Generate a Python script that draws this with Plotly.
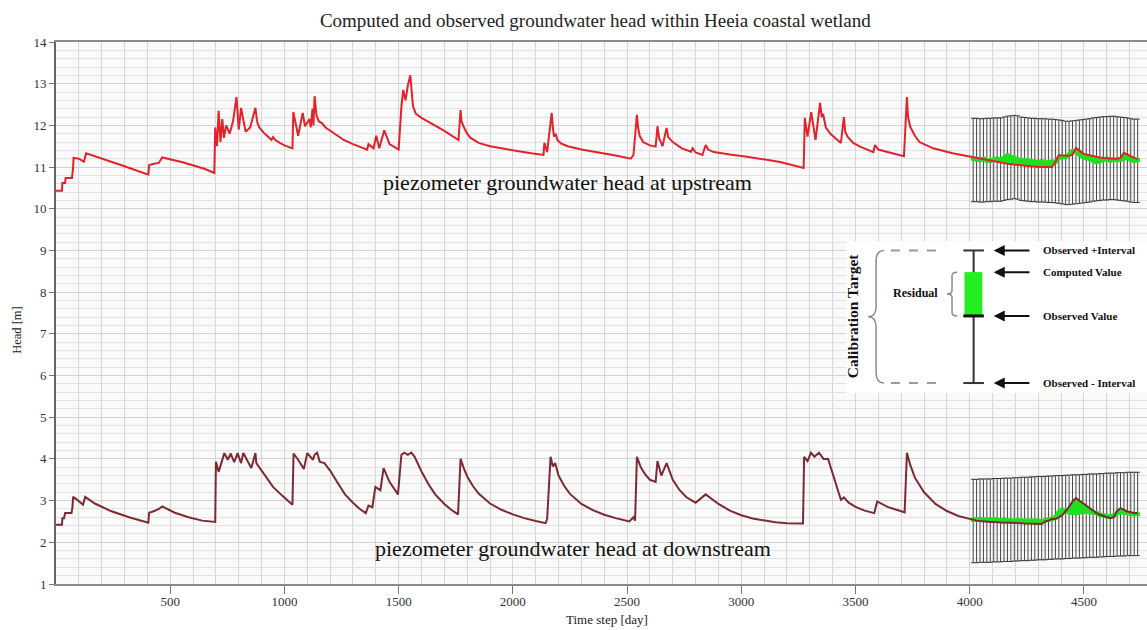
import plotly.graph_objects as go

# ---------------- data ----------------
# simulated head, upstream piezometer (day, head m)
up_days = [0, 26, 28, 40, 42, 70, 75, 77, 100, 118, 122, 132, 200, 300, 404, 408, 430, 450, 465,
           550, 650, 693, 697, 705, 712, 720, 728, 735, 745, 760, 775, 790, 800, 810, 830, 850, 873,
           880, 890, 910, 930, 943, 950, 960, 980, 1000, 1035, 1039, 1060, 1080, 1090, 1110, 1115,
           1123, 1127, 1132, 1140, 1150, 1165, 1180, 1220, 1260, 1300, 1330, 1362, 1368, 1390, 1402,
           1415, 1437, 1460, 1500, 1512, 1520, 1530, 1540, 1551, 1563, 1575, 1600, 1650, 1700, 1762,
           1771, 1775, 1785, 1800, 1815, 1850, 1900, 1950, 2000, 2080, 2134, 2138, 2150, 2170, 2175,
           2180, 2187, 2195, 2210, 2240, 2300, 2370, 2450, 2516, 2528, 2543, 2548, 2555, 2570, 2600,
           2625, 2633, 2640, 2655, 2673, 2680, 2700, 2740, 2780, 2787, 2800, 2830, 2844, 2855, 2880,
           2950, 3025, 3170, 3273, 3278, 3290, 3306, 3325, 3345, 3352, 3358, 3370, 3390, 3436, 3449,
           3455, 3465, 3490, 3520, 3578, 3585, 3600, 3640, 3712, 3725, 3730, 3740, 3760, 3780, 3840,
           3925, 4010]
up_head = [10.43, 10.43, 10.62, 10.62, 10.74, 10.74, 11.0, 11.22, 11.2, 11.15, 11.13, 11.33, 11.21, 11.02, 10.82, 11.05, 11.08, 11.1, 11.23,
           11.12, 10.96, 10.86, 11.95, 11.5, 12.35, 11.6, 12.15, 11.7, 12.0, 11.8, 12.1, 12.68, 11.9, 12.42, 11.85, 11.95, 12.42,
           12.1, 11.95, 11.82, 11.72, 11.65, 11.72, 11.65, 11.58, 11.52, 11.45, 12.32, 11.75, 12.3, 11.98, 12.15, 11.95,
           12.4, 12.0, 12.7, 12.25, 12.1, 12.05, 11.95, 11.8, 11.65, 11.55, 11.48, 11.42, 11.55, 11.45, 11.75,
           11.45, 11.88, 11.55, 11.42, 12.45, 12.85, 12.6, 12.95, 13.2, 12.45, 12.28, 12.18, 12.02, 11.87, 11.65,
           12.37, 12.1, 11.96, 11.8, 11.7, 11.58, 11.5, 11.45, 11.4, 11.33, 11.29, 11.58, 11.36, 12.3, 11.95,
           11.73, 11.8, 11.65, 11.57, 11.5, 11.42, 11.36, 11.28, 11.2, 11.29, 12.25, 11.95, 11.75, 11.6, 11.52,
           11.49, 11.98, 11.7, 11.5, 11.94, 11.72, 11.6, 11.45, 11.37, 11.45, 11.35, 11.29, 11.53, 11.42, 11.36,
           11.3, 11.25, 11.12, 10.98, 12.18, 11.73, 12.32, 11.65, 12.54, 12.2, 12.28, 11.95, 11.8, 11.58, 12.2,
           11.85, 11.73, 11.58, 11.49, 11.36, 11.53, 11.42, 11.36, 11.26, 12.68, 12.2, 11.96, 11.75, 11.6, 11.45,
           11.33, 11.24]

# simulated head, downstream piezometer (day, head m)
dn_days = [0, 26, 28, 35, 40, 68, 72, 75, 90, 118, 128, 170, 240, 320, 404, 408, 430, 450, 465,
           520, 580, 640, 697, 700, 712, 737, 752, 765, 780, 795, 810, 820, 855, 873, 877, 900, 925,
           950, 990, 1035, 1040, 1060, 1085, 1100, 1125, 1132, 1143, 1155, 1175, 1200, 1230, 1265,
           1300, 1330, 1356, 1368, 1385, 1398, 1420, 1434, 1460, 1497, 1512, 1525, 1540, 1555, 1570,
           1600, 1630, 1660, 1700, 1730, 1760, 1771, 1785, 1800, 1825, 1850, 1900, 1950, 2000, 2050,
           2100, 2143, 2150, 2165, 2175, 2185, 2200, 2225, 2250, 2300, 2350, 2400, 2450, 2510, 2528,
           2535, 2543, 2560, 2580, 2600, 2625, 2633, 2650, 2673, 2700, 2730, 2760, 2787, 2800, 2844,
           2870, 2900, 2950, 3000, 3050, 3100, 3150, 3200, 3270, 3275, 3290, 3305, 3320, 3340, 3360,
           3380, 3400, 3420, 3436, 3449, 3470, 3500, 3540, 3582, 3595, 3640, 3715, 3725, 3740, 3760,
           3800, 3850, 3900, 3950, 4010]
dn_head = [2.42, 2.42, 2.58, 2.58, 2.7, 2.7, 2.84, 3.09, 3.03, 2.9, 3.09, 2.93, 2.75, 2.6, 2.47, 2.71, 2.75, 2.8, 2.86,
           2.71, 2.6, 2.52, 2.49, 3.93, 3.69, 4.14, 3.98, 4.13, 3.92, 4.14, 3.9, 4.14, 3.78, 4.14, 3.9, 3.72, 3.5,
           3.33, 3.12, 2.9, 4.13, 3.98, 3.76, 4.14, 3.98, 4.1, 4.15, 3.93, 3.9, 3.72, 3.45, 3.15,
           2.95, 2.8, 2.7, 2.88, 2.84, 3.33, 3.25, 3.78, 3.45, 3.15, 4.1, 4.15, 4.1, 4.15, 4.05,
           3.7, 3.4, 3.15, 2.92, 2.78, 2.67, 4.0, 3.78, 3.58, 3.35, 3.17, 2.93, 2.78, 2.67, 2.58,
           2.51, 2.46, 2.55, 4.05, 3.82, 3.9, 3.6, 3.35, 3.16, 2.92, 2.77, 2.66, 2.58, 2.5, 2.6,
           2.52, 4.05, 3.8, 3.62, 3.5, 3.45, 3.95, 3.6, 3.9, 3.5, 3.25, 3.08, 2.98, 2.95, 3.15,
           3.05, 2.92, 2.76, 2.65, 2.57, 2.52, 2.48, 2.46, 2.45, 4.05, 3.95, 4.15, 4.05, 4.15, 4.0,
           4.0, 3.65, 3.25, 3.02, 3.08, 2.95, 2.85, 2.76, 2.7, 2.98, 2.85, 2.72, 4.15, 3.85, 3.55,
           3.2, 2.92, 2.75, 2.63, 2.55]

# calibration period: observation days
obs_days = [4015, 4030, 4045, 4060, 4075, 4090, 4105, 4120, 4135, 4150, 4165, 4180, 4195, 4210,
            4225, 4240, 4255, 4270, 4285, 4300, 4315, 4330, 4345, 4360, 4375, 4390, 4405, 4420,
            4435, 4450, 4465, 4480, 4495, 4510, 4525, 4540, 4555, 4570, 4585, 4600, 4615, 4630,
            4645, 4660, 4675, 4690, 4705, 4720, 4735]

# upstream: computed and observed head, interval centre
up_comp = [11.23, 11.21, 11.19, 11.18, 11.17, 11.15, 11.13, 11.12, 11.1, 11.09, 11.08, 11.07, 11.06, 11.05,
           11.05, 11.04, 11.03, 11.02, 11.01, 11.0, 11.0, 11.0, 11.0, 11.0, 11.12, 11.29, 11.28, 11.28,
           11.27, 11.3, 11.46, 11.4, 11.33, 11.3, 11.28, 11.26, 11.24, 11.23, 11.22, 11.21, 11.2, 11.2,
           11.2, 11.22, 11.34, 11.3, 11.25, 11.22, 11.19]
up_obs = [11.2, 11.18, 11.17, 11.2, 11.16, 11.15, 11.18, 11.2, 11.17, 11.22, 11.28, 11.25, 11.22, 11.18,
          11.16, 11.17, 11.15, 11.14, 11.13, 11.12, 11.14, 11.1, 11.12, 11.13, 11.13, 11.22, 11.25, 11.24,
          11.3, 11.38, 11.38, 11.3, 11.25, 11.22, 11.2, 11.16, 11.12, 11.15, 11.18, 11.2, 11.16, 11.18,
          11.17, 11.18, 11.22, 11.22, 11.18, 11.15, 11.17]
up_mid = [11.17, 11.17, 11.16, 11.16, 11.17, 11.17, 11.18, 11.18, 11.18, 11.2, 11.22, 11.23, 11.24, 11.23,
          11.2, 11.19, 11.18, 11.17, 11.17, 11.16, 11.16, 11.16, 11.15, 11.15, 11.14, 11.13, 11.12, 11.1,
          11.1, 11.11, 11.12, 11.13, 11.14, 11.15, 11.16, 11.18, 11.19, 11.2, 11.21, 11.21, 11.22, 11.22,
          11.21, 11.2, 11.19, 11.18, 11.16, 11.15, 11.15]

# downstream: computed and observed head, interval centre
dn_comp = [2.53, 2.52, 2.51, 2.5, 2.5, 2.49, 2.49, 2.48, 2.48, 2.47, 2.47, 2.47, 2.46, 2.46,
           2.46, 2.45, 2.45, 2.45, 2.45, 2.44, 2.44, 2.5, 2.52, 2.56, 2.56, 2.6, 2.65, 2.75,
           2.85, 2.98, 3.06, 3.0, 2.94, 2.86, 2.8, 2.74, 2.7, 2.66, 2.63, 2.6, 2.58, 2.6,
           2.75, 2.82, 2.78, 2.74, 2.72, 2.7, 2.7]
dn_obs = [2.55, 2.55, 2.56, 2.55, 2.55, 2.54, 2.55, 2.54, 2.53, 2.54, 2.53, 2.52, 2.52, 2.53,
          2.52, 2.52, 2.51, 2.52, 2.51, 2.52, 2.5, 2.53, 2.55, 2.56, 2.6, 2.72, 2.78, 2.76,
          2.72, 2.7, 2.7, 2.72, 2.74, 2.74, 2.72, 2.72, 2.7, 2.66, 2.64, 2.62, 2.62, 2.64,
          2.7, 2.72, 2.72, 2.7, 2.68, 2.68, 2.68]
dn_mid = [2.51, 2.51, 2.52, 2.52, 2.52, 2.52, 2.53, 2.53, 2.53, 2.54, 2.54, 2.54, 2.55, 2.55,
          2.56, 2.56, 2.56, 2.57, 2.57, 2.58, 2.58, 2.58, 2.59, 2.59, 2.6, 2.6, 2.6, 2.61,
          2.61, 2.62, 2.62, 2.62, 2.63, 2.63, 2.64, 2.64, 2.64, 2.65, 2.65, 2.66, 2.66, 2.66,
          2.67, 2.67, 2.67, 2.68, 2.68, 2.68, 2.68]
interval = 1.0

# calibration-target key (schematic values)
key_x = 4017
key_top, key_comp, key_obs, key_bot = 9.0, 8.48, 7.43, 5.82
key_labels = ["Observed +Interval", "Computed Value", "Observed Value", "Observed - Interval"]

# ---------------- styling ----------------
SERIF = "Liberation Serif, Times New Roman, serif"
RED = "#e3222b"
BROWN = "#7d2a33"
GREEN = "#1fe01f"
X_MAX = 4776

fig = go.Figure()


def add_site(days, head, comp, obs, mid, colour):
    # observation interval bars
    fig.add_trace(go.Scatter(
        x=obs_days, y=mid, mode="markers", marker=dict(size=1, color="rgba(0,0,0,0)"),
        error_y=dict(type="data", array=[interval] * len(mid), color="#1a1a1a",
                     thickness=0.8, width=2.2),
        hoverinfo="skip", showlegend=False))
    # residual band between computed and observed
    fig.add_trace(go.Scatter(x=obs_days, y=comp, mode="lines",
                             line=dict(color="rgba(0,0,0,0)", width=0),
                             hoverinfo="skip", showlegend=False))
    fig.add_trace(go.Scatter(x=obs_days, y=obs, mode="lines+markers", fill="tonexty",
                             fillcolor=GREEN, line=dict(color=GREEN, width=4),
                             marker=dict(size=5, color=GREEN), showlegend=False))
    # computed head over the whole run
    fig.add_trace(go.Scatter(x=days + obs_days, y=head + comp, mode="lines",
                             line=dict(color=colour, width=2), showlegend=False))


add_site(up_days, up_head, up_comp, up_obs, up_mid, RED)
add_site(dn_days, dn_head, dn_comp, dn_obs, dn_mid, BROWN)

# ---------------- calibration-target key ----------------
shapes = []
shapes.append(dict(type="rect", xref="x", yref="y", x0=3460, x1=X_MAX, y0=5.58, y1=9.22,
                   fillcolor="white", line=dict(width=0), layer="above"))
for yv in (key_top, key_bot):
    shapes.append(dict(type="line", xref="x", yref="y", x0=3655, x1=3860, y0=yv, y1=yv,
                       line=dict(color="#9a9a9a", width=2, dash="dash")))
    shapes.append(dict(type="line", xref="x", yref="y", x0=key_x - 45, x1=key_x + 45, y0=yv, y1=yv,
                       line=dict(color="#333333", width=2)))
shapes.append(dict(type="line", xref="x", yref="y", x0=key_x, x1=key_x, y0=key_bot, y1=key_top,
                   line=dict(color="#333333", width=2)))
shapes.append(dict(type="rect", xref="x", yref="y", x0=key_x - 40, x1=key_x + 38,
                   y0=key_obs, y1=key_comp, fillcolor="#22ee22", line=dict(width=0)))
shapes.append(dict(type="line", xref="x", yref="y", x0=key_x - 45, x1=key_x + 45,
                   y0=key_obs, y1=key_obs, line=dict(color="#111111", width=3)))


def brace(x_tip, x_end, y_top, y_bot):
    # left-facing curly brace drawn as a path in data units
    xm = (x_tip + x_end) / 2
    ym = (y_top + y_bot) / 2
    d = (y_top - y_bot) * 0.08
    return (f"M {x_end},{y_top} Q {xm},{y_top} {xm},{y_top - d} "
            f"L {xm},{ym + d} Q {xm},{ym} {x_tip},{ym} "
            f"Q {xm},{ym} {xm},{ym - d} L {xm},{y_bot + d} Q {xm},{y_bot} {x_end},{y_bot}")


shapes.append(dict(type="path", xref="x", yref="y", path=brace(3555, 3625, key_top, key_bot),
                   line=dict(color="#8c8c8c", width=1.5)))
shapes.append(dict(type="path", xref="x", yref="y", path=brace(3900, 3945, key_comp, key_obs),
                   line=dict(color="#8c8c8c", width=1.5)))

annotations = []
for yv, label in zip([key_top, key_comp, key_obs, key_bot], key_labels):
    annotations.append(dict(x=4105, y=yv, xref="x", yref="y", ax=4268, ay=yv, axref="x", ayref="y",
                            text="", showarrow=True, arrowhead=2, arrowsize=1.1, arrowwidth=2,
                            arrowcolor="#111111"))
    annotations.append(dict(x=4310, y=yv, xref="x", yref="y", text=f"<b>{label}</b>",
                            showarrow=False, xanchor="left", yanchor="middle",
                            font=dict(family=SERIF, size=11, color="#111111")))
annotations.append(dict(x=3764, y=7.98, xref="x", yref="y", text="<b>Residual</b>", showarrow=False,
                        font=dict(family=SERIF, size=12, color="#111111")))
annotations.append(dict(x=3490, y=7.43, xref="x", yref="y", text="<b>Calibration Target</b>",
                        showarrow=False, textangle=-90,
                        font=dict(family=SERIF, size=15.5, color="#111111")))

# series labels
annotations.append(dict(x=2237, y=10.62, xref="x", yref="y",
                        text="piezometer groundwater head at upstream", showarrow=False,
                        font=dict(family=SERIF, size=22, color="#111111")))
annotations.append(dict(x=2262, y=1.84, xref="x", yref="y",
                        text="piezometer groundwater head at downstream", showarrow=False,
                        font=dict(family=SERIF, size=22, color="#111111")))

# axis titles
annotations.append(dict(x=0.505, y=-0.066, xref="paper", yref="paper", text="Time step [day]",
                        showarrow=False, yanchor="middle", xanchor="center",
                        font=dict(family=SERIF, size=13, color="#222222")))
annotations.append(dict(x=-0.0357, y=0.469, xref="paper", yref="paper", text="Head [m]",
                        showarrow=False, textangle=-90, xanchor="center", yanchor="middle",
                        font=dict(family=SERIF, size=12.5, color="#222222")))

fig.update_layout(
    width=1147, height=630,
    margin=dict(l=56, r=0, t=42, b=46),
    paper_bgcolor="white", plot_bgcolor="#fafafa",
    title=dict(text="Computed and observed groundwater head within Heeia coastal wetland",
               x=0.519, xanchor="center", y=1 - 20 / 630, yanchor="middle", yref="container",
               font=dict(family=SERIF, size=19, color="#222222")),
    shapes=shapes, annotations=annotations,
    xaxis=dict(range=[0, X_MAX], tickvals=[500, 1000, 1500, 2000, 2500, 3000, 3500, 4000, 4500],
               ticks="outside", ticklen=8, tickcolor="#777777", ticklabelstandoff=-4,
               showgrid=True, gridcolor="#d6d6d6",
               gridwidth=1, minor=dict(dtick=100, tick0=0, showgrid=True, gridcolor="#d6d6d6"),
               showline=True, linecolor="#8a8a8a", linewidth=2, mirror=True, zeroline=False,
               tickfont=dict(family=SERIF, size=13, color="#333333")),
    yaxis=dict(range=[1, 14], dtick=1, ticks="outside", ticklen=5, tickcolor="#777777",
               showgrid=True, gridcolor="#d2d2d2", gridwidth=1,
               minor=dict(dtick=0.2, showgrid=True, gridcolor="#e2e2e2"),
               showline=True, linecolor="#666666", linewidth=2, zeroline=False,
               tickfont=dict(family=SERIF, size=13, color="#333333")),
)

fig.write_html("out.html")
